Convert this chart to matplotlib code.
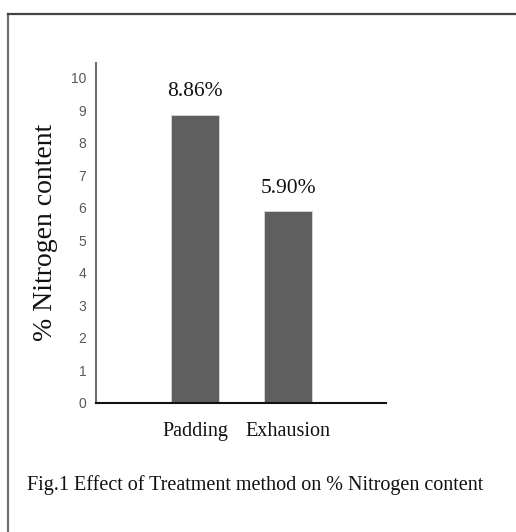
import matplotlib
matplotlib.use("Agg")
import matplotlib.pyplot as plt
from matplotlib.lines import Line2D

# data
methods = ["Padding", "Exhausion"]
nitrogen = [8.86, 5.90]
value_labels = ["8.86%", "5.90%"]
yticks = list(range(0, 11))

serif = ["Liberation Serif", "DejaVu Serif"]
sans = ["Liberation Sans", "DejaVu Sans"]

fig = plt.figure(figsize=(5.16, 5.32), dpi=100)
ax = fig.add_axes([96 / 516, 1 - 403 / 532, 290 / 516, 340 / 532])

x = list(range(len(methods)))
bars = ax.bar(x, nitrogen, width=0.51, color="#5f5f5f", edgecolor="#d8d8d8", linewidth=0.6)

for b, lab in zip(bars, value_labels):
    ax.text(b.get_x() + b.get_width() / 2, b.get_height() + 0.42, lab,
            ha="center", va="bottom", fontsize=15.5, family=serif, color="#111111")

ax.set_xlim(-1.065, 2.054)
ax.set_ylim(0, 10.46)
ax.set_yticks(yticks)
ax.set_yticklabels([str(t) for t in yticks], family=sans, fontsize=10, color="#595959")
ax.set_xticks(x)
ax.set_xticklabels(methods, family=serif, fontsize=14.5, color="#111111")
ax.tick_params(axis="both", length=0)
ax.tick_params(axis="y", pad=7)
ax.tick_params(axis="x", pad=14)

for s in ["top", "right"]:
    ax.spines[s].set_visible(False)
ax.spines["left"].set_color("#6e6e6e")
ax.spines["left"].set_linewidth(1.5)
ax.spines["bottom"].set_color("#111111")
ax.spines["bottom"].set_linewidth(1.5)

fig.text(46 / 516, 1 - 232 / 532, "% Nitrogen content", rotation=90,
         ha="center", va="center", fontsize=20, family=serif, color="#111111")
fig.text(27 / 516, 1 - 485 / 532, "Fig.1 Effect of Treatment method on % Nitrogen content",
         ha="left", va="center", fontsize=14.5, family=serif, color="#111111")

# page frame around the figure
fig.add_artist(Line2D([8 / 516, 8 / 516], [0, 1 - 14 / 532], transform=fig.transFigure,
                      color="#6e6e6e", linewidth=1.6))
fig.add_artist(Line2D([8 / 516, 1], [1 - 14 / 532, 1 - 14 / 532], transform=fig.transFigure,
                      color="#444444", linewidth=1.6))

fig.savefig("out.png", dpi=100)
